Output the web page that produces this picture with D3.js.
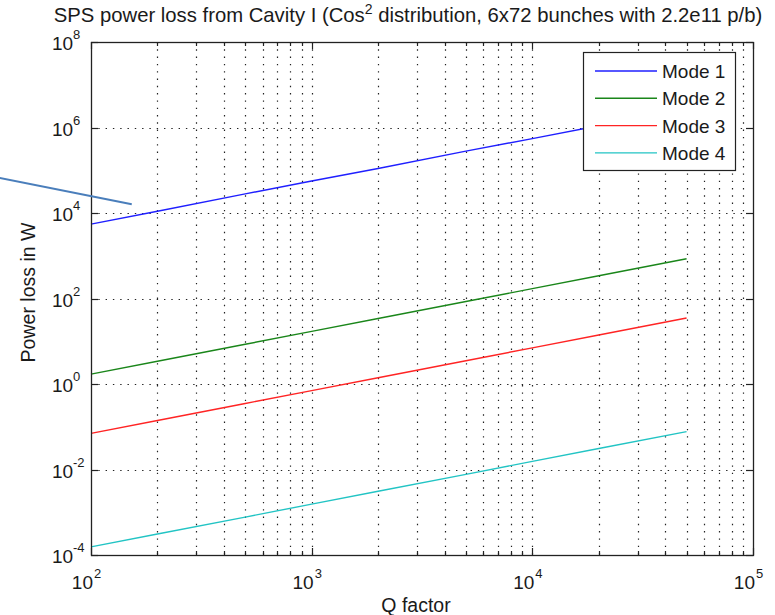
<!DOCTYPE html>
<html>
<head>
<meta charset="utf-8">
<script src="https://cdn.jsdelivr.net/npm/d3@7"></script>
<style>
  body { margin: 0; background: #fff; }
  svg text { font-family: "Liberation Sans", Arial, sans-serif; fill: #1a1a1a; }
</style>
</head>
<body>
<div id="chart"></div>
<script>
// values
const qFactor = [100, 200, 500, 1000, 2000, 5000, 10000, 20000, 50000];
const mode1 = [5.5e3, 1.1e4, 2.8e4, 5.6e4, 1.1e5, 2.8e5, 5.5e5, 1.1e6, 2.8e6];
const mode2 = [1.7, 3.4, 8.5, 17, 34, 85, 170, 340, 850];
const mode3 = [0.07, 0.14, 0.35, 0.7, 1.4, 3.5, 7, 14, 35];
const mode4 = [1.55e-4, 3.1e-4, 7.7e-4, 1.55e-3, 3.1e-3, 7.7e-3, 1.55e-2, 3.1e-2, 7.7e-2];
const seriesNames = ["Mode 1", "Mode 2", "Mode 3", "Mode 4"];
const seriesColors = ["#1f1fff", "#1a861a", "#ff2424", "#22c4c4"];

const xTickExp = [2, 3, 4, 5];
const yTickExp = [-4, -2, 0, 2, 4, 6, 8];
const xMinorMult = [2, 3, 4, 5, 6, 7, 8, 9];

// stray annotation line (data coordinates)
const annoQ = [38.6, 153];
const annoP = [6.6e4, 1.6e4];

const W = 775, H = 615;
const margins = {top: 42, right: 22, bottom: 60, left: 91};

const svg = d3.select("#chart").append("svg")
  .attr("width", W).attr("height", H);

const x = d3.scaleLog().domain([1e2, 1e5]).range([margins.left, W - margins.right]);
const y = d3.scaleLog().domain([1e-4, 1e8]).range([H - margins.bottom, margins.top]);
const [x0, x1] = x.range();
const [y0, y1] = y.range();

// minor x values
const xMinor = [];
xTickExp.slice(0, -1).forEach(e => xMinorMult.forEach(m => xMinor.push(m * Math.pow(10, e))));
const xMajor = xTickExp.map(e => Math.pow(10, e));
const yMajor = yTickExp.map(e => Math.pow(10, e));

// grid
const grid = svg.append("g")
  .attr("stroke", "#222").attr("stroke-width", 1.2)
  .attr("stroke-dasharray", "1.4,5.9").attr("fill", "none");
grid.selectAll(".vx").data(xMinor.concat(xMajor.slice(1, -1))).enter().append("line")
  .attr("x1", d => Math.round(x(d)) + 0.5).attr("x2", d => Math.round(x(d)) + 0.5)
  .attr("y1", y1).attr("y2", y0);
grid.selectAll(".hy").data(yMajor.slice(1, -1)).enter().append("line")
  .attr("y1", d => Math.round(y(d)) + 0.5).attr("y2", d => Math.round(y(d)) + 0.5)
  .attr("x1", x0).attr("x2", x1);

// ticks
const ticks = svg.append("g").attr("stroke", "#222").attr("stroke-width", 1.2);
xMajor.forEach(v => {
  const px = Math.round(x(v)) + 0.5;
  ticks.append("line").attr("x1", px).attr("x2", px).attr("y1", y0).attr("y2", y0 - 7);
  ticks.append("line").attr("x1", px).attr("x2", px).attr("y1", y1).attr("y2", y1 + 7);
});
xMinor.forEach(v => {
  const px = Math.round(x(v)) + 0.5;
  ticks.append("line").attr("x1", px).attr("x2", px).attr("y1", y0).attr("y2", y0 - 4);
  ticks.append("line").attr("x1", px).attr("x2", px).attr("y1", y1).attr("y2", y1 + 4);
});
yMajor.forEach(v => {
  const py = Math.round(y(v)) + 0.5;
  ticks.append("line").attr("y1", py).attr("y2", py).attr("x1", x0).attr("x2", x0 + 7);
  ticks.append("line").attr("y1", py).attr("y2", py).attr("x1", x1).attr("x2", x1 - 7);
});

// series
const series = [mode1, mode2, mode3, mode4];
const line = d3.line().x(d => x(d[0])).y(d => y(d[1]));
svg.append("g").selectAll("path").data(series).enter().append("path")
  .attr("d", s => line(qFactor.map((q, i) => [q, s[i]])))
  .attr("fill", "none")
  .attr("stroke", (s, i) => seriesColors[i])
  .attr("stroke-width", 1.4);

// frame
svg.append("rect")
  .attr("x", x0 + 0.5).attr("y", y1 + 0.5)
  .attr("width", x1 - x0).attr("height", y0 - y1)
  .attr("fill", "none").attr("stroke", "#222").attr("stroke-width", 1.3);

// tick labels
const yLab = svg.append("g");
yTickExp.forEach(e => {
  const py = y(Math.pow(10, e));
  yLab.append("text").attr("x", 52).attr("y", py + 8).attr("font-size", 19).text("10");
  yLab.append("text").attr("x", 73).attr("y", py - 3).attr("font-size", 13)
    .text(e < 0 ? "-" + Math.abs(e) : e);
});
const xLab = svg.append("g");
xTickExp.forEach(e => {
  const px = x(Math.pow(10, e));
  xLab.append("text").attr("x", px + 2).attr("y", 589).attr("font-size", 19)
    .attr("text-anchor", "end").text("10");
  xLab.append("text").attr("x", px + 3).attr("y", 578).attr("font-size", 13).text(e);
});

// axis titles
svg.append("text").attr("x", 416).attr("y", 612)
  .attr("text-anchor", "middle").attr("font-size", 19.5).text("Q factor");
svg.append("text").attr("transform", "translate(35," + ((y0 + y1) / 2 - 6) + ") rotate(-90)")
  .attr("text-anchor", "middle").attr("font-size", 19.5).text("Power loss in W");

// title
const title = svg.append("text").attr("x", 408).attr("y", 22)
  .attr("text-anchor", "middle").attr("font-size", 20.3);
title.append("tspan").text("SPS power loss from Cavity I (Cos");
title.append("tspan").attr("dy", -8).attr("font-size", 14).text("2");
title.append("tspan").attr("dy", 8).text(" distribution, 6x72 bunches with 2.2e11 p/b)");

// legend
const legend = svg.append("g");
legend.append("rect").attr("x", 583.5).attr("y", 52.5).attr("width", 152).attr("height", 118)
  .attr("fill", "#fff").attr("stroke", "#222").attr("stroke-width", 1.2);
const rows = legend.selectAll("g.row").data(seriesNames).enter().append("g")
  .attr("transform", (d, i) => "translate(0," + (71 + i * 27.3) + ")");
rows.append("line").attr("x1", 595).attr("x2", 657).attr("y1", 0).attr("y2", 0)
  .attr("stroke", (d, i) => seriesColors[i]).attr("stroke-width", 1.4);
rows.append("text").attr("x", 662).attr("y", 7).attr("font-size", 19).text(d => d);

// stray annotation line
svg.append("line")
  .attr("x1", x(annoQ[0])).attr("y1", y(annoP[0]))
  .attr("x2", x(annoQ[1])).attr("y2", y(annoP[1]))
  .attr("stroke", "#4a7ebb").attr("stroke-width", 2);
</script>
</body>
</html>
